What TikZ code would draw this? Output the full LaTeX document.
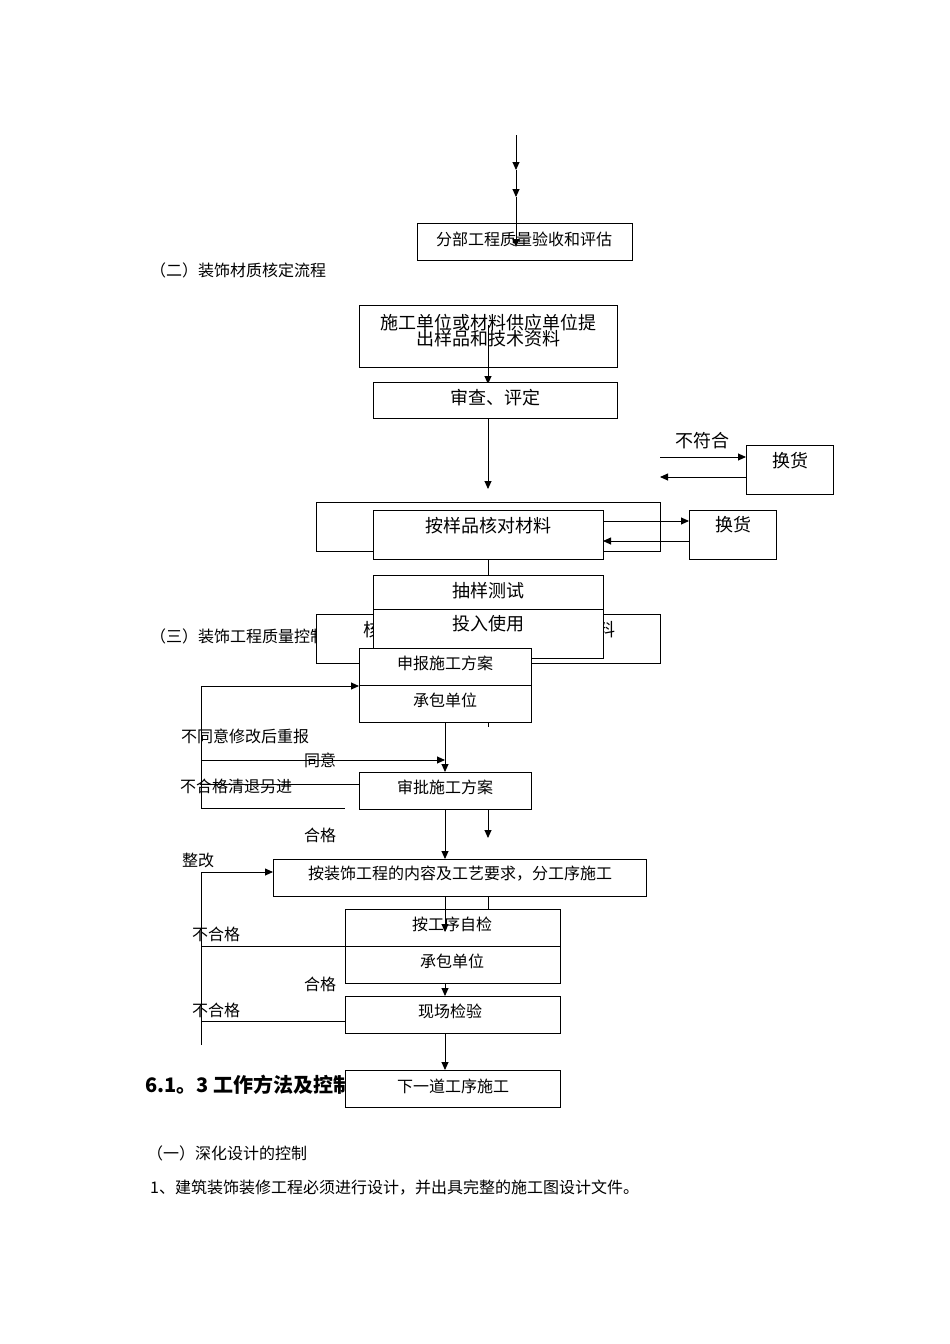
\documentclass[tikz,border=0pt]{standalone}
\usepackage{fontspec}
\setmainfont{Noto Sans CJK SC}
\usetikzlibrary{arrows.meta}
\begin{document}
\begin{tikzpicture}[x=1pt,y=-1pt,
  bx/.style={draw,fill=white,line width=0.9pt},
  lab/.style={font=\fontsize{16}{18}\selectfont,inner sep=0pt},
  big/.style={font=\fontsize{18}{19}\selectfont,inner sep=0pt},
  ar/.style={-{Triangle[length=8pt,width=7pt]},line width=0.9pt},
  ln/.style={line width=0.9pt}]
\useasboundingbox (0,0) rectangle (950,1344);
% top
\coordinate (t0) at (516,135); \coordinate (t1) at (516,170); \coordinate (t2) at (516,197);
\draw[ar] (t0)--(t1); \draw[ar] (t1)--(t2);
\draw[bx] (417,223) rectangle (632,260);
\node[lab] (fb) at (524,239) {分部工程质量验收和评估};
\coordinate (t3) at (516,247); \draw[ar] (t2)--(t3);
\node[lab,anchor=west] (h2) at (150,270) {（二）装饰材质核定流程};
% section 2
\draw[bx] (359,305) rectangle (617,367);
\node[big,align=center] (s1) at (488,331) {施工单位或材料供应单位提\\[-3pt]出样品和技术资料};
\coordinate (a1) at (488,325); \coordinate (a2) at (488,384);
\draw[ar] (a1)--(a2);
\draw[bx] (373,382) rectangle (617,418);
\node[big] (s2) at (495,398) {审查、评定};
\coordinate (b1) at (488,418); \coordinate (b2) at (488,489);
\draw[ar] (b1)--(b2);
\node[big] (bf) at (702,441) {不符合};
\draw[bx] (746,445) rectangle (833,494);
\node[big] (hh1) at (790,461) {换货};
\coordinate (c1) at (660,457); \coordinate (c2) at (746,457);
\coordinate (c3) at (746,477); \coordinate (c4) at (660,477);
\draw[ar] (c1)--(c2); \draw[ar] (c3)--(c4);
\draw[ln] (316,502) rectangle (660,551);
\draw[bx] (373,510) rectangle (603,559);
\node[big] (s3) at (488,526) {按样品核对材料};
\draw[bx] (689,510) rectangle (776,559);
\node[big] (hh2) at (733,525) {换货};
\coordinate (d1) at (603,521); \coordinate (d2) at (689,521);
\coordinate (d3) at (689,541); \coordinate (d4) at (603,541);
\draw[ar] (d1)--(d2); \draw[ar] (d3)--(d4);
\coordinate (e1) at (488,559); \coordinate (e2) at (488,575);
\draw[ln] (e1)--(e2);
% behind section 3 heading
\node[lab,anchor=west] (h3) at (150,636) {（三）装饰工程质量控制流程};
\draw[bx] (316,614) rectangle (660,663);
\node[big] (k1) at (372,630) {核};
\node[big] (k2) at (606,630) {料};
\draw[bx] (373,575) rectangle (603,609);
\node[big] (s4) at (488,591) {抽样测试};
\draw[bx] (373,609) rectangle (603,658);
\node[big] (s5) at (488,624) {投入使用};
% section 3
\draw[bx] (359,648) rectangle (531,685);
\node[lab] (p1) at (445,663) {申报施工方案};
\draw[bx] (359,685) rectangle (531,722);
\node[lab] (p2) at (445,700) {承包单位};
\coordinate (l1) at (201,686); \coordinate (l2) at (359,686);
\coordinate (l3) at (201,808); \coordinate (l4) at (345,808);
\draw[ar] (l3)--(l1)--(l2);
\draw[ln] (l3)--(l4);
\node[lab] (n1) at (245,736) {不同意修改后重报};
\coordinate (m1) at (201,760); \coordinate (m2) at (445,760);
\draw[ar] (m1)--(m2);
\node[lab] (n2) at (320,760) {同意};
\node[lab] (n3) at (236,786) {不合格清退另进};
\coordinate (m3) at (359,784); \coordinate (m4) at (201,784);
\draw[ln] (m3)--(m4);
\coordinate (f1) at (445,722); \coordinate (f2) at (445,772);
\draw[ar] (f1)--(f2);
\draw[ln] (488,722)--(488,727);
\draw[bx] (359,772) rectangle (531,809);
\node[lab] (p3) at (445,787) {审批施工方案};
\coordinate (g1) at (445,809); \coordinate (g2) at (445,859);
\draw[ar] (g1)--(g2);
\coordinate (g3) at (488,809); \coordinate (g4) at (488,838);
\draw[ar] (g3)--(g4);
\node[lab] (n4) at (320,835) {合格};
\node[lab] (n5) at (198,860) {整改};
\draw[bx] (273,859) rectangle (646,896);
\node[lab] (p4) at (460,874) {按装饰工程的内容及工艺要求，分工序施工};
\coordinate (r1) at (201,1045); \coordinate (r2) at (201,872); \coordinate (r3) at (273,872);
\draw[ar] (r1)--(r2)--(r3);
\draw[ln] (488,896)--(488,909);
\draw[bx] (345,909) rectangle (560,946);
\node[lab] (p5) at (452,924) {按工序自检};
\coordinate (h1) at (445,896); \coordinate (h2) at (445,932);
\draw[ar] (h1)--(h2);
\draw[bx] (345,946) rectangle (560,983);
\node[lab] (p6) at (452,961) {承包单位};
\coordinate (q1) at (201,946); \coordinate (q2) at (345,946);
\draw[ln] (q1)--(q2);
\node[lab] (n6) at (216,934) {不合格};
\coordinate (i1) at (445,983); \coordinate (i2) at (445,996);
\draw[ar] (i1)--(i2);
\node[lab] (n7) at (320,984) {合格};
\node[lab] (n8) at (216,1010) {不合格};
\node[font=\fontsize{20}{22}\selectfont\bfseries,inner sep=0pt,anchor=west] (h4) at (145,1085) {6.1。3 工作方法及控制措施};
\draw[bx] (345,996) rectangle (560,1033);
\node[lab] (p7) at (450,1011) {现场检验};
\coordinate (j1) at (345,1021); \coordinate (j2) at (201,1021);
\draw[ln] (j1)--(j2);
\coordinate (k3) at (445,1033); \coordinate (k4) at (445,1070);
\draw[ar] (k3)--(k4);
\draw[bx] (345,1070) rectangle (560,1107);
\node[lab] (p8) at (453,1086) {下一道工序施工};
\node[lab,anchor=west] (h5) at (147,1153) {（一）深化设计的控制};
\node[lab,anchor=west] (h6) at (150,1188) {1、建筑装饰装修工程必须进行设计，并出具完整的施工图设计文件。};
\end{tikzpicture}
\end{document}
